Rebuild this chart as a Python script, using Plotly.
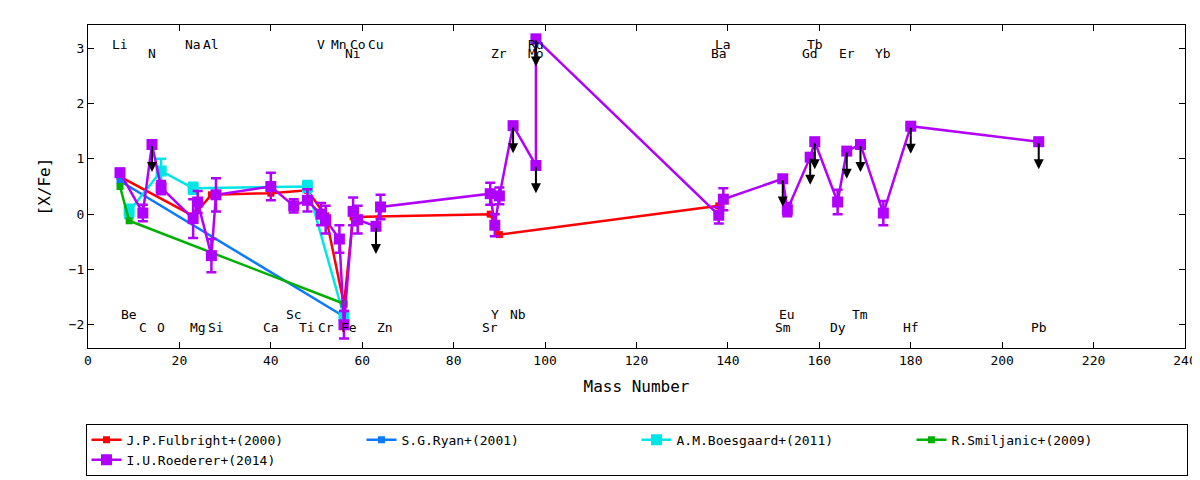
import plotly.graph_objects as go

# Fulbright+(2000)
fu_mass = [7, 23, 27, 40, 48, 52, 56, 58, 88, 90, 138]
fu_val = [0.68, -0.03, 0.35, 0.38, 0.43, -0.03, -1.63, -0.05, 0.0, -0.37, 0.15]
# Ryan+(2001)
ry_mass = [7, 56]
ry_val = [0.6, -1.85]
# Boesgaard+(2011)
bo_mass = [9, 16, 23, 48, 56]
bo_val = [0.05, 0.78, 0.47, 0.5, -1.85]
bo_err = [0.12, 0.22, 0.1, 0.1, 0.1]
# Smiljanic+(2009)
sm_mass = [7, 9, 56]
sm_val = [0.5, -0.12, -1.62]
# Roederer+(2014)
ro_mass = [7, 12, 14, 16, 23, 24, 27, 28, 40, 45, 48, 51, 52, 55, 56, 58, 59, 63, 64,
           88, 89, 90, 93, 98, 98, 138, 139, 152, 153, 158, 159, 164, 166, 169, 174, 180, 208]
ro_val = [0.75, 0.02, 1.26, 0.48, -0.08, 0.22, -0.75, 0.35, 0.5, 0.15, 0.25, 0.0, -0.1, -0.45,
          -2.0, 0.05, -0.1, -0.22, 0.13, 0.37, -0.2, 0.33, 1.6, 0.88, 3.17, -0.02, 0.27, 0.64,
          0.08, 1.03, 1.31, 0.22, 1.14, 1.26, 0.02, 1.59, 1.31]
ro_err = [0.05, 0.15, 0, 0.12, 0.35, 0.2, 0.3, 0.3, 0.25, 0.12, 0.2, 0.2, 0.25, 0.25,
          0.25, 0.25, 0.25, 0, 0.22, 0.2, 0.2, 0.15, 0, 0, 0, 0.15, 0.2, 0,
          0.12, 0, 0, 0.22, 0, 0, 0.22, 0, 0]
ro_upper = [m == 0 for m in ro_err]

top1 = [("Li", 7), ("Na", 23), ("Al", 27), ("V", 51), ("Mn", 55), ("Co", 59), ("Cu", 63),
        ("Ru", 98), ("La", 139), ("Tb", 159)]
top2 = [("N", 14), ("Ni", 58), ("Zr", 90), ("Mo", 98), ("Ba", 138), ("Gd", 158), ("Er", 166),
        ("Yb", 174)]
bot1 = [("Be", 9), ("Sc", 45), ("Y", 89), ("Nb", 94), ("Eu", 153), ("Tm", 169)]
bot2 = [("C", 12), ("O", 16), ("Mg", 24), ("Si", 28), ("Ca", 40), ("Ti", 48), ("Cr", 52),
        ("Fe", 57), ("Zn", 65), ("Sr", 88), ("Sm", 152), ("Dy", 164), ("Hf", 180), ("Pb", 208)]

FONT = "DejaVu Sans Mono"
fig = go.Figure()


def add(name, x, y, color, err=None):
    e = dict(type="data", array=err, color=color, thickness=2.5, width=5, visible=True) if err else None
    fig.add_trace(go.Scatter(x=x, y=y, name=name, mode="lines+markers",
                             line=dict(color=color, width=2.5),
                             marker=dict(symbol="square", size=11 if err else 7, color=color),
                             error_y=e))


add("J.P.Fulbright+(2000)", fu_mass, fu_val, "#ff0000")
add("S.G.Ryan+(2001)", ry_mass, ry_val, "#0a7aff")
add("A.M.Boesgaard+(2011)", bo_mass, bo_val, "#00e5e5", bo_err)
add("R.Smiljanic+(2009)", sm_mass, sm_val, "#00b000")
add("I.U.Roederer+(2014)", ro_mass, ro_val, "#b000ff", ro_err)

for m, v, up in zip(ro_mass, ro_val, ro_upper):
    if up:
        fig.add_annotation(x=m, y=v - 0.5, ax=m, ay=v, xref="x", yref="y", axref="x", ayref="y",
                           showarrow=True, arrowhead=2, arrowsize=1, arrowwidth=2,
                           arrowcolor="black", text="")

for row, yp in [(top1, 0.97), (top2, 0.94), (bot1, 0.075), (bot2, 0.033)]:
    for lab, m in row:
        fig.add_annotation(x=m, y=yp, xref="x", yref="paper", text=lab, showarrow=False,
                           font=dict(family=FONT, size=13, color="black"))

fig.update_layout(
    width=1200, height=480, plot_bgcolor="white", paper_bgcolor="white",
    margin=dict(l=80, r=23, t=17, b=125),
    font=dict(family=FONT, size=13, color="black"),
    showlegend=True,
    legend=dict(orientation="h", x=0.5, xanchor="center", y=-0.235, yanchor="top",
                bordercolor="black", borderwidth=1, entrywidth=230,
                font=dict(family=FONT, size=13)),
    xaxis=dict(range=[0, 240], dtick=20, title=dict(text="Mass Number", standoff=14),
               showgrid=False, zeroline=False, showline=True, linecolor="black", mirror="ticks",
               ticks="inside", ticklen=6, tickcolor="black", automargin=False),
    yaxis=dict(range=[-2.42, 3.42], dtick=1, title=dict(text="[X/Fe]", standoff=14),
               showgrid=False, zeroline=False, showline=True, linecolor="black", mirror="ticks",
               ticks="inside", ticklen=6, tickcolor="black", automargin=False),
)
fig.write_html("out.html")
